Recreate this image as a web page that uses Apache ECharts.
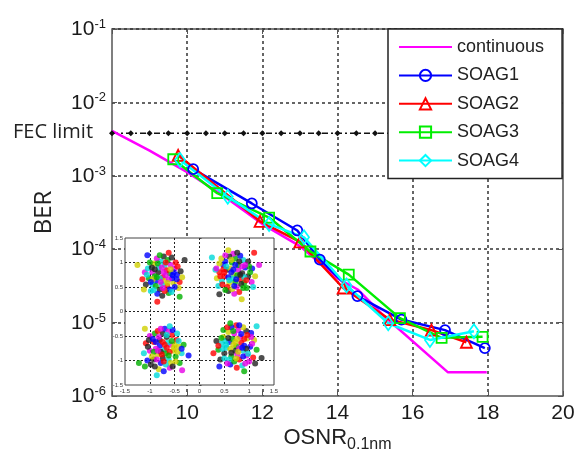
<!DOCTYPE html>
<html>
<head>
<meta charset="utf-8">
<script src="https://cdn.jsdelivr.net/npm/echarts@6/dist/echarts.min.js"></script>
<style>
  html, body { margin: 0; padding: 0; background: #fff; }
  #chart { width: 576px; height: 460px; }
</style>
</head>
<body>
<div id="chart"></div>
<script>
// BER curves vs OSNR
var continuousX = [8, 9, 10, 11, 12, 13, 14, 14.55, 15.26, 16.94, 17.97];
var continuousBER = [4.1e-3, 2.2e-3, 1.12e-3, 5.2e-4, 2.2e-4, 1.1e-4, 4e-5, 2.8e-5, 1.2e-5, 2.1e-6, 2.1e-6];

var soag1X = [10.16, 11.72, 12.93, 13.53, 14.53, 15.70, 16.86, 17.92];
var soag1BER = [1.23e-3, 4.2e-4, 1.8e-4, 7.2e-5, 2.3e-5, 1.1e-5, 7.9e-6, 4.5e-6];

var soag2X = [9.76, 11.94, 13.0, 14.15, 15.39, 16.50, 17.43];
var soag2BER = [1.9e-3, 2.4e-4, 1.26e-4, 2.96e-5, 1.1e-5, 7.9e-6, 5.4e-6];

var soag3X = [9.63, 10.80, 12.18, 13.28, 14.30, 15.66, 16.77, 17.86];
var soag3BER = [1.68e-3, 5.8e-4, 2.7e-4, 9.3e-5, 4.5e-5, 1.15e-5, 6.2e-6, 6.4e-6];

var soag4X = [9.81, 11.08, 12.18, 13.11, 14.24, 15.35, 16.46, 17.63];
var soag4BER = [1.64e-3, 5.2e-4, 2.2e-4, 1.45e-4, 3.2e-5, 9.8e-6, 5.8e-6, 7.6e-6];

// FEC threshold
var fecX = [8, 8.5, 9, 9.5, 10, 10.5, 11, 11.5, 12, 12.5, 13, 13.5, 14, 14.5, 15, 15.5, 16, 16.5, 17, 17.5, 18, 18.5, 19, 19.5];
var fecBER = 3.8e-3;

var xTicks = [8, 10, 12, 14, 16, 18, 20];

// inset constellation (4 clusters)
var constTL = [[-0.74,0.70],[-0.60,0.78],[-0.88,0.62],[-0.70,0.95],[-0.95,0.80],[-0.52,0.58],[-0.80,0.45],[-0.65,0.52],[-1.02,0.68],[-0.45,0.75],[-0.78,1.02],[-0.58,0.95],[-0.92,0.98],[-1.08,0.55],[-0.40,0.60],[-0.62,0.38],[-0.85,0.36],[-0.98,0.42],[-0.50,0.88],[-0.70,0.62],[-0.83,0.80],[-0.66,0.84],[-0.90,0.72],[-0.55,0.68],[-0.76,0.55],[-1.10,0.80],[-0.35,0.70],[-0.72,1.12],[-0.48,1.00],[-1.00,1.00],[-0.60,0.45],[-0.95,0.55],[-0.86,1.08],[-0.42,0.48],[-0.75,0.32],[-1.15,0.66],[-0.64,1.05],[-0.52,0.80],[-0.80,0.68],[-0.68,0.74],[-1.25,0.95],[-0.30,1.05],[-0.85,0.20],[-0.40,0.30],[-1.05,1.15],
  [-0.82,0.90],[-0.62,0.66],[-0.94,0.66],[-0.56,1.10],[-0.70,0.42],[-0.88,0.52],[-0.46,0.66],[-1.04,0.88],[-0.78,0.60],[-0.58,0.86],[-0.96,0.90],[-0.68,1.00],[-0.84,0.98],[-0.50,0.50],[-1.06,0.75],[-0.72,0.80],[-0.64,0.58],[-0.90,0.86],[-0.44,0.92],[-0.80,1.15],[-0.98,0.60],[-0.56,0.40],[-0.74,0.48],[-1.12,0.45],[-0.38,0.82],[-0.62,1.20],[-0.86,0.70],[-0.54,0.74],[-0.92,0.44],[-0.76,0.90]];
var constTR = [[0.69,0.75],[0.55,0.85],[0.82,0.66],[0.65,1.00],[0.92,0.90],[0.45,0.62],[0.75,0.50],[0.60,0.58],[0.98,0.72],[0.40,0.80],[0.72,1.08],[0.52,1.02],[0.88,1.05],[1.05,0.60],[0.35,0.68],[0.58,0.42],[0.80,0.40],[0.95,0.48],[0.48,0.95],[0.66,0.68],[0.78,0.85],[0.62,0.88],[0.86,0.78],[0.50,0.72],[0.72,0.60],[1.06,0.88],[0.32,0.85],[0.68,1.18],[0.44,1.08],[0.98,1.02],[0.56,0.50],[0.90,0.58],[0.82,1.14],[0.38,0.52],[0.70,0.36],[1.12,0.72],[0.60,1.12],[0.48,0.86],[0.76,0.74],[0.64,0.80],[0.25,1.10],[1.20,0.95],[0.85,0.25],[0.40,0.35],[1.10,1.20],
  [0.78,0.95],[0.58,0.70],[0.90,0.70],[0.52,1.15],[0.66,0.46],[0.84,0.56],[0.42,0.72],[1.00,0.92],[0.74,0.66],[0.54,0.92],[0.92,0.95],[0.64,1.05],[0.80,1.02],[0.46,0.55],[1.02,0.80],[0.68,0.85],[0.60,0.64],[0.86,0.92],[0.40,0.98],[0.76,1.20],[0.94,0.64],[0.52,0.44],[0.70,0.52],[1.08,0.50],[0.34,0.88],[0.58,1.25],[0.82,0.75],[0.50,0.80],[0.88,0.48],[0.72,0.95]];
var constBL = [[-0.71,-0.78],[-0.58,-0.68],[-0.85,-0.88],[-0.66,-0.52],[-0.92,-0.62],[-0.48,-0.92],[-0.78,-1.05],[-0.62,-0.98],[-1.00,-0.80],[-0.42,-0.72],[-0.74,-0.45],[-0.55,-0.48],[-0.90,-0.45],[-1.05,-1.00],[-0.36,-0.85],[-0.60,-1.15],[-0.82,-1.18],[-0.98,-1.08],[-0.46,-0.58],[-0.68,-0.85],[-0.80,-0.70],[-0.64,-0.64],[-0.88,-0.76],[-0.52,-0.80],[-0.74,-0.95],[-1.08,-0.65],[-0.32,-0.68],[-0.70,-0.35],[-0.45,-0.45],[-1.00,-0.50],[-0.58,-1.05],[-0.92,-0.98],[-0.84,-0.40],[-0.40,-1.05],[-0.72,-1.22],[-1.12,-0.85],[-0.62,-0.40],[-0.50,-0.68],[-0.78,-0.82],[-0.66,-0.74],[-1.22,-1.05],[-0.22,-0.90],[-0.86,-1.30],[-0.35,-1.20],[-1.10,-0.35],
  [-0.80,-0.58],[-0.60,-0.82],[-0.92,-0.82],[-0.54,-0.38],[-0.68,-1.08],[-0.86,-0.98],[-0.44,-0.82],[-1.02,-0.58],[-0.76,-0.88],[-0.56,-0.60],[-0.94,-0.56],[-0.66,-0.48],[-0.82,-0.52],[-0.48,-1.02],[-1.04,-0.72],[-0.70,-0.68],[-0.62,-0.90],[-0.88,-0.62],[-0.42,-0.60],[-0.78,-0.35],[-0.96,-0.92],[-0.54,-1.12],[-0.72,-1.02],[-1.10,-1.12],[-0.36,-0.76],[-0.60,-0.30],[-0.84,-0.80],[-0.52,-0.74],[-0.90,-1.12],[-0.74,-0.62]];
var constBR = [[0.74,-0.71],[0.60,-0.62],[0.88,-0.80],[0.70,-0.45],[0.96,-0.55],[0.50,-0.85],[0.80,-0.98],[0.64,-0.92],[1.02,-0.72],[0.44,-0.66],[0.78,-0.38],[0.58,-0.42],[0.94,-0.40],[1.08,-0.94],[0.38,-0.78],[0.62,-1.08],[0.86,-1.10],[1.00,-1.02],[0.48,-0.52],[0.72,-0.80],[0.84,-0.64],[0.66,-0.56],[0.90,-0.70],[0.54,-0.74],[0.76,-0.88],[1.10,-0.58],[0.34,-0.60],[0.74,-0.28],[0.48,-0.38],[1.04,-0.44],[0.60,-0.98],[0.95,-0.90],[0.88,-0.32],[0.42,-0.98],[0.75,-1.15],[1.15,-0.78],[0.64,-0.32],[0.52,-0.60],[0.80,-0.75],[0.68,-0.68],[1.25,-0.95],[0.28,-0.85],[0.90,-1.22],[0.40,-1.12],[1.15,-0.30],
  [0.82,-0.52],[0.62,-0.76],[0.94,-0.76],[0.56,-0.32],[0.70,-1.02],[0.88,-0.92],[0.46,-0.76],[1.04,-0.52],[0.78,-0.82],[0.58,-0.54],[0.96,-0.48],[0.68,-0.40],[0.84,-0.46],[0.50,-0.96],[1.06,-0.66],[0.72,-0.62],[0.64,-0.84],[0.90,-0.56],[0.44,-0.54],[0.80,-0.28],[0.98,-0.86],[0.56,-1.06],[0.74,-0.96],[1.12,-1.06],[0.38,-0.70],[0.62,-0.24],[0.86,-0.74],[0.54,-0.68],[0.92,-1.06],[0.76,-0.56]];

var dotColors = ['#ff0000', '#00b000', '#0000ff', '#00d8d8', '#e600e6', '#d0d000', '#222222'];

function pairs(xs, ys) {
  return xs.map(function (x, i) { return [x, ys[i]]; });
}

var myChart = echarts.init(document.getElementById('chart'));

var gridDash = { show: true, showMinLine: false, showMaxLine: false, lineStyle: { color: '#333', width: 1.5, type: [3, 3] } };
var insetDash = { show: true, showMinLine: false, showMaxLine: false, lineStyle: { color: '#222', width: 1, type: [2, 2] } };

function markerSeries(name, color, symbol, size, xs, ys) {
  return {
    name: name,
    type: 'line',
    xAxisIndex: 0,
    yAxisIndex: 0,
    color: color,
    symbol: symbol,
    symbolSize: size,
    showAllSymbol: true,
    lineStyle: { color: color, width: 2.5 },
    itemStyle: { color: 'rgba(255,255,255,0)', borderColor: color, borderWidth: 1.8 },
    data: pairs(xs, ys),
    z: 3
  };
}

myChart.setOption({
  animation: false,
  grid: [
    { left: 112, top: 29, width: 451, height: 367, show: true, borderColor: '#555', borderWidth: 1.5, backgroundColor: '#fff',
      containLabel: false, outerBoundsMode: 'none' },
    { left: 125, top: 238, width: 149, height: 147, show: true, borderColor: '#444', borderWidth: 1, backgroundColor: '#fff', z: 10,
      containLabel: false, outerBoundsMode: 'none' }
  ],
  legend: {
    data: [
      { name: 'continuous', itemStyle: { opacity: 0 } },
      'SOAG1', 'SOAG2', 'SOAG3', 'SOAG4'
    ],
    orient: 'vertical',
    left: 388,
    top: 29,
    padding: [9, 18, 9, 10],
    itemWidth: 53,
    itemHeight: 14,
    itemGap: 10.4,
    backgroundColor: '#fff',
    borderColor: '#222',
    borderWidth: 1.5,
    textStyle: { fontSize: 18, fontFamily: 'Liberation Sans', color: '#222' },
    z: 20
  },
  xAxis: [
    {
      type: 'value', gridIndex: 0, min: 8, max: 20, interval: 2, position: 'bottom',
      name: '{a|OSNR}{b|0.1nm}', nameLocation: 'middle', nameGap: 31, nameMoveOverlap: false,
      nameTextStyle: {
        rich: {
          a: { fontSize: 22, fontFamily: 'Liberation Sans', color: '#222', lineHeight: 26, verticalAlign: 'top' },
          b: { fontSize: 16, fontFamily: 'Liberation Sans', color: '#222', lineHeight: 16, padding: [18, 0, 0, 0], verticalAlign: 'bottom' }
        }
      },
      axisLine: { show: false },
      axisTick: { show: true, inside: true, length: 5, lineStyle: { color: '#555' } },
      axisLabel: { fontSize: 21, fontFamily: 'Liberation Sans', color: '#1a1a1a', margin: 7,
        formatter: function (v) { return xTicks.indexOf(v) >= 0 ? String(v) : ''; } },
      splitLine: gridDash
    },
    {
      type: 'value', gridIndex: 0, min: 8, max: 20, interval: 2, position: 'top',
      axisLine: { show: false }, axisLabel: { show: false }, splitLine: { show: false },
      axisTick: { show: true, inside: true, length: 5, lineStyle: { color: '#555' } }
    },
    {
      type: 'value', gridIndex: 1, min: -1.5, max: 1.5, interval: 0.5, z: 11,
      axisLine: { show: false },
      axisTick: { show: true, inside: true, length: 2, lineStyle: { color: '#444' } },
      axisLabel: { fontSize: 6, color: '#333', margin: 3 },
      splitLine: insetDash
    }
  ],
  yAxis: [
    {
      type: 'log', logBase: 10, gridIndex: 0, min: 1e-6, max: 1e-1, splitNumber: 5, position: 'left',
      name: 'BER', nameLocation: 'middle', nameGap: 56, nameRotate: 90, nameMoveOverlap: false,
      nameTextStyle: { fontSize: 24, fontFamily: 'Open Sans', color: '#222' },
      axisLine: { show: false },
      axisTick: { show: true, inside: true, length: 5, lineStyle: { color: '#555' } },
      axisLabel: {
        margin: 6,
        formatter: function (v) {
          var e = Math.round(Math.log(v) / Math.LN10);
          return '{b|10}{s|' + e + '}';
        },
        rich: {
          b: { fontSize: 21, fontFamily: 'Liberation Sans', color: '#1a1a1a', lineHeight: 22, verticalAlign: 'bottom' },
          s: { fontSize: 13, fontFamily: 'Liberation Sans', color: '#1a1a1a', lineHeight: 13, padding: [0, 0, 11, 0], verticalAlign: 'top' }
        }
      },
      splitLine: gridDash
    },
    {
      type: 'log', logBase: 10, gridIndex: 0, min: 1e-6, max: 1e-1, splitNumber: 5, position: 'right',
      axisLine: { show: false }, axisLabel: { show: false }, splitLine: { show: false },
      axisTick: { show: true, inside: true, length: 5, lineStyle: { color: '#555' } }
    },
    {
      type: 'value', gridIndex: 1, min: -1.5, max: 1.5, interval: 0.5, z: 11,
      axisLine: { show: false },
      axisTick: { show: true, inside: true, length: 2, lineStyle: { color: '#444' } },
      axisLabel: { fontSize: 6, color: '#333', margin: 2 },
      splitLine: insetDash
    }
  ],
  graphic: [
    { type: 'text', left: 13, top: 122, style: { text: 'FEC limit', font: '20px "Open Sans"', fill: '#222' } }
  ],
  series: [
    {
      name: 'FEC', type: 'line', xAxisIndex: 0, yAxisIndex: 0,
      data: fecX.map(function (x) { return [x, fecBER]; }),
      symbol: 'diamond', symbolSize: 6, showAllSymbol: true,
      itemStyle: { color: '#111' },
      lineStyle: { color: '#111', width: 1.5, type: [6, 3, 2, 3] },
      z: 2
    },
    {
      name: 'continuous', type: 'line', xAxisIndex: 0, yAxisIndex: 0,
      data: pairs(continuousX, continuousBER),
      color: '#ff00ff', symbol: 'none', showSymbol: false,
      lineStyle: { color: '#ff00ff', width: 2.5 },
      z: 2
    },
    markerSeries('SOAG1', '#0000ff', 'circle', 10, soag1X, soag1BER),
    markerSeries('SOAG2', '#ff0000', 'triangle', 11, soag2X, soag2BER),
    markerSeries('SOAG3', '#00ee00', 'rect', 10, soag3X, soag3BER),
    markerSeries('SOAG4', '#00ffff', 'diamond', [10, 14], soag4X, soag4BER),
    {
      name: 'constellation', type: 'scatter', xAxisIndex: 2, yAxisIndex: 2,
      data: constTL.concat(constTR, constBL, constBR),
      symbol: 'circle', symbolSize: 6,
      itemStyle: { color: function (p) { return dotColors[p.dataIndex % dotColors.length]; } },
      z: 12
    }
  ]
});
</script>
</body>
</html>
